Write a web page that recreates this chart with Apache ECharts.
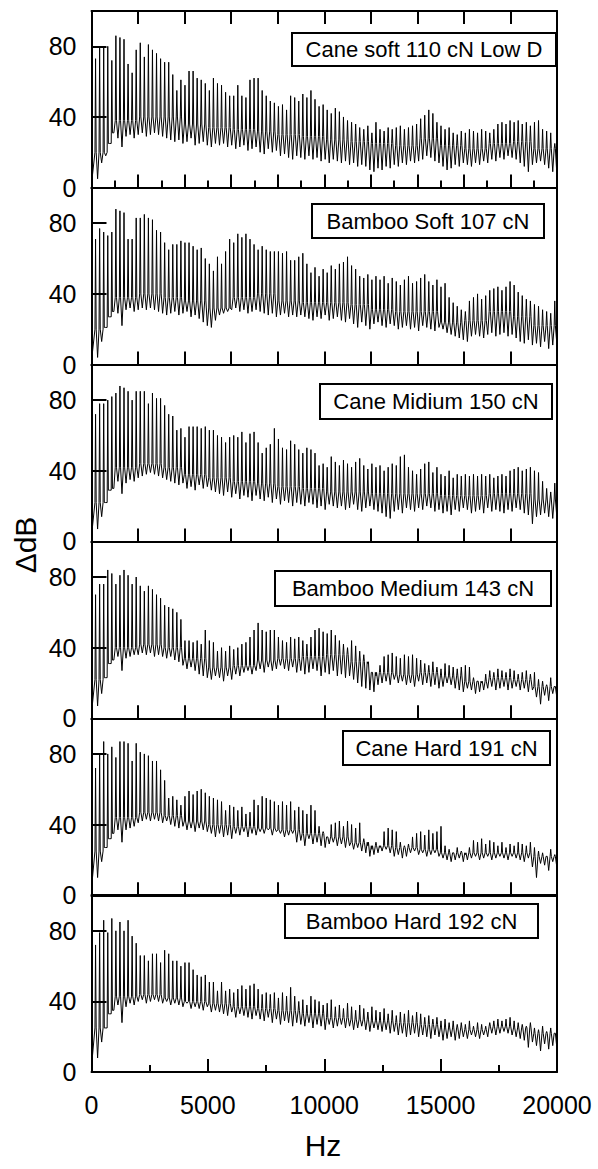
<!DOCTYPE html>
<html>
<head>
<meta charset="utf-8">
<script src="https://cdn.jsdelivr.net/npm/echarts@6/dist/echarts.min.js"></script>
<style>
  html, body { margin: 0; padding: 0; background: #fff; }
  #chart { width: 598px; height: 1169px; }
</style>
</head>
<body>
<div id="chart"></div>
<script>
// fundamental of the note (Hz), harmonic k sits at k * F0
var F0 = 174.6;

var panelLabels = ['Cane soft 110 cN Low D', 'Bamboo Soft 107 cN', 'Cane Midium 150 cN',
                   'Bamboo Medium 143 cN', 'Cane Hard 191 cN', 'Bamboo Hard 192 cN'];

// level at 0 Hz for each panel
var startLevel = [2, 2, 3, 3, 4, 3];

// peak level of each harmonic (dB) and the dip that follows it
var peaks1 = [73, 79, 80, 80, 72, 86, 85, 84, 70, 65,
              78, 82, 74, 81, 78, 76, 73, 71, 71, 64,
              55, 61, 58, 66, 66, 62, 61, 59, 55, 62,
              59, 58, 54, 52, 52, 58, 52, 51, 61, 62,
              62, 55, 52, 49, 48, 46, 47, 44, 52, 51,
              49, 53, 51, 55, 50, 46, 47, 44, 42, 45,
              43, 40, 38, 37, 36, 34, 33, 35, 31, 37,
              33, 32, 34, 33, 34, 35, 33, 34, 35, 36,
              39, 41, 44, 42, 37, 35, 33, 34, 31, 30,
              32, 31, 33, 32, 31, 33, 32, 31, 33, 36,
              37, 36, 38, 37, 38, 36, 37, 35, 37, 38,
              33, 32, 31, 25];
var troughs1 = [5, 14, 18, 25, 31, 28, 23, 29, 30, 28,
                30, 31, 29, 30, 31, 30, 29, 28, 27, 26,
                27, 25, 26, 28, 24, 25, 26, 24, 23, 25,
                24, 25, 23, 24, 22, 23, 24, 21, 22, 23,
                20, 19, 22, 20, 21, 18, 19, 17, 16, 18,
                17, 16, 18, 16, 17, 15, 16, 14, 16, 15,
                14, 15, 13, 14, 12, 13, 12, 10, 9, 11,
                10, 12, 11, 13, 12, 14, 13, 15, 14, 15,
                16, 18, 17, 15, 14, 12, 10, 11, 13, 12,
                14, 13, 12, 14, 13, 15, 14, 16, 15, 17,
                16, 18, 17, 16, 14, 12, 9, 13, 14, 15,
                13, 11, 9, 8];

var peaks2 = [71, 77, 75, 73, 75, 88, 87, 86, 71, 71,
              83, 83, 85, 83, 82, 76, 75, 69, 65, 68,
              68, 70, 69, 69, 67, 65, 66, 60, 57, 53,
              61, 57, 64, 71, 69, 74, 72, 74, 71, 68,
              65, 67, 65, 64, 64, 64, 63, 64, 59, 59,
              61, 63, 57, 52, 55, 50, 54, 52, 56, 54,
              57, 58, 61, 56, 54, 50, 49, 51, 48, 50,
              48, 50, 46, 49, 47, 45, 48, 50, 46, 47,
              49, 51, 47, 45, 48, 44, 46, 38, 35, 33,
              31, 30, 36, 38, 40, 37, 39, 42, 43, 44,
              42, 44, 47, 45, 41, 39, 37, 36, 34, 33,
              31, 30, 29, 36];
var troughs2 = [4, 13, 21, 27, 30, 29, 22, 31, 32, 30,
                31, 32, 31, 32, 31, 30, 29, 28, 29, 30,
                28, 29, 30, 27, 28, 26, 24, 22, 21, 25,
                28, 29, 30, 31, 32, 30, 31, 29, 30, 31,
                30, 29, 28, 29, 27, 28, 29, 27, 28, 27,
                28, 27, 26, 25, 27, 26, 28, 25, 26, 27,
                25, 24, 26, 23, 21, 24, 22, 20, 23, 24,
                22, 21, 23, 22, 20, 21, 22, 20, 21, 19,
                22, 21, 20, 19, 21, 20, 18, 17, 16, 15,
                14, 13, 16, 17, 16, 15, 17, 18, 16, 17,
                18, 16, 17, 15, 13, 12, 14, 11, 12, 10,
                13, 9, 11, 12];

var peaks3 = [72, 78, 78, 80, 82, 84, 88, 87, 85, 80,
              85, 85, 85, 78, 84, 81, 81, 77, 72, 71,
              63, 64, 59, 65, 65, 65, 64, 65, 63, 63,
              60, 59, 56, 59, 60, 59, 62, 56, 61, 62,
              56, 50, 53, 55, 64, 58, 53, 52, 57, 55,
              52, 50, 53, 52, 50, 43, 44, 42, 48, 45,
              43, 46, 44, 42, 45, 47, 43, 41, 44, 42,
              43, 40, 42, 44, 43, 48, 49, 42, 40, 38,
              41, 44, 45, 39, 42, 38, 37, 40, 36, 38,
              37, 38, 37, 38, 37, 38, 37, 38, 36, 37,
              38, 37, 40, 41, 42, 40, 41, 42, 40, 39,
              34, 30, 28, 33];
var troughs3 = [7, 14, 22, 29, 30, 34, 27, 33, 35, 34,
                36, 37, 38, 39, 38, 37, 36, 35, 34, 33,
                32, 33, 30, 31, 29, 32, 30, 31, 29, 28,
                27, 26, 28, 25, 27, 24, 26, 25, 23, 26,
                24, 23, 25, 22, 24, 21, 23, 22, 20, 22,
                21, 20, 22, 21, 19, 20, 18, 21, 20, 19,
                20, 18, 19, 21, 18, 17, 19, 20, 18, 17,
                16, 14, 13, 17, 18, 16, 19, 18, 17, 19,
                18, 20, 19, 17, 18, 16, 17, 15, 18, 17,
                19, 18, 16, 17, 18, 16, 19, 17, 18, 17,
                16, 18, 17, 19, 18, 16, 15, 10, 14, 15,
                16, 14, 13, 14];

var peaks4 = [70, 76, 76, 84, 82, 76, 81, 84, 81, 76,
              80, 75, 72, 75, 73, 70, 68, 64, 63, 62,
              60, 56, 44, 44, 43, 44, 42, 50, 44, 43,
              38, 40, 38, 41, 39, 40, 42, 43, 46, 50,
              54, 50, 49, 50, 50, 46, 44, 43, 46, 45,
              46, 44, 42, 46, 50, 51, 49, 48, 50, 47,
              44, 42, 40, 44, 41, 38, 36, 31, 26, 24,
              30, 35, 36, 37, 35, 34, 36, 35, 36, 34,
              33, 31, 30, 32, 29, 28, 31, 30, 29, 28,
              29, 30, 29, 23, 21, 20, 25, 27, 26, 28,
              27, 26, 28, 27, 25, 26, 27, 25, 26, 22,
              21, 19, 23, 18];
var troughs4 = [7, 14, 23, 31, 33, 35, 27, 34, 35, 36,
                36, 37, 36, 37, 35, 36, 35, 34, 35, 33,
                32, 30, 28, 29, 27, 25, 24, 23, 22, 24,
                23, 21, 24, 22, 25, 24, 26, 27, 25, 27,
                28, 26, 29, 27, 28, 30, 28, 27, 29, 26,
                27, 25, 26, 28, 27, 24, 26, 25, 27, 24,
                25, 23, 24, 22, 20, 18, 17, 16, 15, 19,
                20, 21, 19, 22, 20, 21, 19, 20, 18, 21,
                19, 20, 18, 19, 17, 18, 20, 19, 17, 16,
                15, 17, 16, 14, 15, 16, 17, 18, 16, 17,
                18, 16, 17, 18, 16, 17, 15, 16, 12, 8,
                13, 10, 14, 12];

var peaks5 = [72, 80, 87, 80, 84, 78, 87, 87, 86, 76,
              86, 81, 80, 79, 76, 76, 71, 65, 55, 56,
              54, 51, 56, 59, 57, 59, 60, 58, 56, 55,
              54, 53, 48, 51, 50, 48, 50, 46, 47, 54,
              51, 56, 55, 54, 53, 51, 53, 51, 53, 48,
              50, 48, 46, 51, 48, 39, 36, 33, 40, 41,
              42, 39, 42, 40, 38, 41, 32, 28, 26, 30,
              27, 36, 38, 37, 36, 30, 28, 29, 33, 35,
              36, 34, 37, 35, 36, 39, 28, 26, 24, 27,
              25, 23, 27, 31, 30, 32, 29, 31, 30, 28,
              30, 27, 29, 28, 30, 29, 28, 30, 27, 25,
              24, 22, 26, 23];
var troughs5 = [10, 19, 27, 32, 35, 37, 30, 37, 38, 39,
                41, 42, 43, 42, 43, 42, 41, 42, 40, 39,
                38, 39, 37, 38, 36, 38, 37, 36, 35, 33,
                35, 33, 34, 32, 35, 34, 36, 33, 35, 34,
                36, 35, 37, 34, 36, 35, 33, 34, 35, 30,
                31, 28, 32, 29, 30, 28, 27, 29, 30, 28,
                29, 27, 28, 26, 27, 25, 24, 22, 23, 24,
                25, 26, 24, 22, 23, 21, 22, 24, 25, 23,
                24, 22, 23, 24, 22, 21, 20, 19, 20, 21,
                19, 20, 21, 22, 20, 21, 22, 20, 21, 22,
                21, 20, 22, 21, 20, 19, 21, 16, 10, 18,
                17, 14, 19, 16];

var peaks6 = [72, 79, 86, 79, 87, 80, 85, 80, 86, 77,
              73, 66, 66, 63, 67, 67, 62, 69, 67, 63,
              63, 60, 62, 62, 58, 55, 54, 55, 51, 51,
              46, 51, 46, 47, 45, 47, 49, 47, 49, 50,
              47, 44, 45, 44, 45, 42, 45, 43, 48, 43,
              40, 41, 38, 43, 41, 40, 38, 39, 41, 37,
              38, 36, 39, 37, 35, 38, 36, 34, 37, 35,
              34, 36, 33, 35, 32, 34, 33, 35, 32, 34,
              33, 31, 32, 30, 31, 29, 30, 28, 29, 27,
              28, 27, 29, 26, 28, 27, 26, 28, 29, 30,
              29, 30, 31, 29, 28, 27, 26, 28, 25, 24,
              26, 23, 25, 22];
var troughs6 = [8, 17, 25, 33, 35, 38, 28, 37, 39, 38,
                40, 41, 39, 40, 41, 40, 39, 40, 38, 39,
                38, 37, 39, 36, 37, 36, 35, 37, 34, 35,
                34, 33, 32, 34, 31, 33, 32, 31, 30, 32,
                30, 29, 31, 28, 30, 27, 29, 28, 26, 28,
                27, 26, 28, 25, 27, 26, 24, 27, 25, 26,
                27, 25, 26, 24, 25, 26, 24, 23, 25, 24,
                23, 24, 22, 23, 21, 22, 20, 21, 22, 20,
                21, 20, 19, 21, 20, 18, 19, 20, 18, 19,
                20, 19, 21, 20, 19, 21, 20, 22, 21, 22,
                23, 22, 21, 20, 19, 18, 14, 17, 15, 12,
                16, 13, 15, 14];

// level of the noise band between harmonics, one value per kHz (0-1k ... 19-20k)
var band1 = [20, 38, 40, 40, 36, 34, 33, 32, 30, 29, 27, 26, 25, 24, 28, 24, 22, 25, 26, 22];
var band2 = [20, 38, 40, 38, 36, 32, 38, 40, 36, 35, 35, 34, 31, 30, 30, 24, 25, 30, 27, 22];
var band3 = [22, 42, 44, 42, 38, 36, 34, 33, 31, 30, 28, 28, 27, 27, 27, 26, 26, 27, 27, 24];
var band4 = [22, 40, 42, 40, 34, 29, 30, 33, 34, 35, 36, 32, 26, 25, 26, 24, 21, 23, 22, 18];
var band5 = [25, 44, 47, 45, 42, 40, 39, 38, 37, 35, 33, 30, 28, 27, 26, 24, 24, 24, 24, 22];
var band6 = [25, 43, 44, 42, 40, 39, 37, 36, 35, 33, 31, 30, 29, 28, 27, 25, 24, 26, 25, 22];

var peaks = [peaks1, peaks2, peaks3, peaks4, peaks5, peaks6];
var troughs = [troughs1, troughs2, troughs3, troughs4, troughs5, troughs6];
var bands = [band1, band2, band3, band4, band5, band6];

// label box for each panel: [left, top, width, height]
var boxes = [[291, 32, 264, 33], [311, 203, 232, 34], [319, 383, 232, 35],
             [274, 570, 276, 35], [342, 730, 207, 34], [284, 903, 253, 34]];

function spectrum(p, t, band, s) {
  var d = [[0, s]];
  for (var i = 0; i < p.length; i++) {
    var f = (i + 1) * F0;
    var b = band[Math.min(19, Math.floor(f / 1000))];
    var prevT = i > 0 ? t[i - 1] : s;
    d.push([f - 0.15 * F0, Math.max(b, prevT)]);
    d.push([f, p[i]]);
    d.push([f + 0.15 * F0, Math.max(b, t[i])]);
    d.push([f + 0.5 * F0, t[i]]);
  }
  return d;
}

var chart = echarts.init(document.getElementById('chart'), null, {renderer: 'svg'});

var FONT = 'Liberation Sans, Arial, sans-serif';
var axisLine = {show: true, onZero: false, lineStyle: {color: '#000', width: 2}};
var grids = [], xAxes = [], yAxes = [], series = [], graphics = [];

for (var i = 0; i < 6; i++) {
  grids.push({left: 91.5, right: 41, top: 11 + i * 176.9, height: 176.6});
  var last = i === 5;
  // bottom x axis
  xAxes.push({
    gridIndex: i, type: 'value', position: 'bottom', min: 0, max: 20000,
    interval: last ? 5000 : 2000,
    axisLine: axisLine,
    axisTick: {show: true, inside: true, length: 13, lineStyle: {color: '#000', width: 2}},
    minorTick: {show: i === 0 || last, splitNumber: 2, length: 7, lineStyle: {color: '#000', width: 2}},
    splitLine: {show: false},
    axisLabel: {show: last, color: '#000', fontSize: 25, fontFamily: FONT, margin: 20,
                formatter: function (v) { return String(v); }}
  });
  // top x axis (frame)
  xAxes.push({
    gridIndex: i, type: 'value', position: 'top', min: 0, max: 20000, interval: 2000,
    axisLine: axisLine,
    axisTick: {show: i === 0, inside: true, length: 13, lineStyle: {color: '#000', width: 2}},
    splitLine: {show: false},
    axisLabel: {show: false}
  });
  yAxes.push({
    gridIndex: i, type: 'value', position: 'left', min: 0, max: 100, interval: 40,
    axisLine: axisLine,
    axisTick: {show: true, inside: true, length: 15, lineStyle: {color: '#000', width: 2}},
    splitLine: {show: false},
    axisLabel: {color: '#000', fontSize: 25, fontFamily: FONT, margin: 15, showMaxLabel: false}
  });
  yAxes.push({
    gridIndex: i, type: 'value', position: 'right', min: 0, max: 100,
    axisLine: axisLine, axisTick: {show: false}, splitLine: {show: false},
    axisLabel: {show: false}
  });
  series.push({
    type: 'line', xAxisIndex: i * 2, yAxisIndex: i * 2,
    data: spectrum(peaks[i], troughs[i], bands[i], startLevel[i]),
    showSymbol: false, symbol: 'none', sampling: null, silent: true,
    lineStyle: {color: '#000', width: 1}
  });
  var b = boxes[i];
  graphics.push({
    type: 'group', left: b[0], top: b[1], z: 100,
    children: [
      {type: 'rect', shape: {x: 0, y: 0, width: b[2], height: b[3]},
       style: {fill: '#fff', stroke: '#000', lineWidth: 2}},
      {type: 'text', x: b[2] / 2, y: b[3] / 2,
       style: {text: panelLabels[i], fill: '#000', font: '22px ' + FONT,
               textAlign: 'center', textVerticalAlign: 'middle'}}
    ]
  });
}

graphics.push({
  type: 'text', x: 25, y: 545, rotation: Math.PI / 2,
  style: {text: 'ΔdB', fill: '#000', font: '30px ' + FONT, textAlign: 'center', textVerticalAlign: 'middle'}
});
graphics.push({
  type: 'text', x: 323, y: 1145,
  style: {text: 'Hz', fill: '#000', font: '30px ' + FONT, textAlign: 'center', textVerticalAlign: 'middle'}
});

chart.setOption({
  animation: false,
  backgroundColor: '#fff',
  grid: grids,
  xAxis: xAxes,
  yAxis: yAxes,
  series: series,
  graphic: graphics
});
</script>
</body>
</html>
